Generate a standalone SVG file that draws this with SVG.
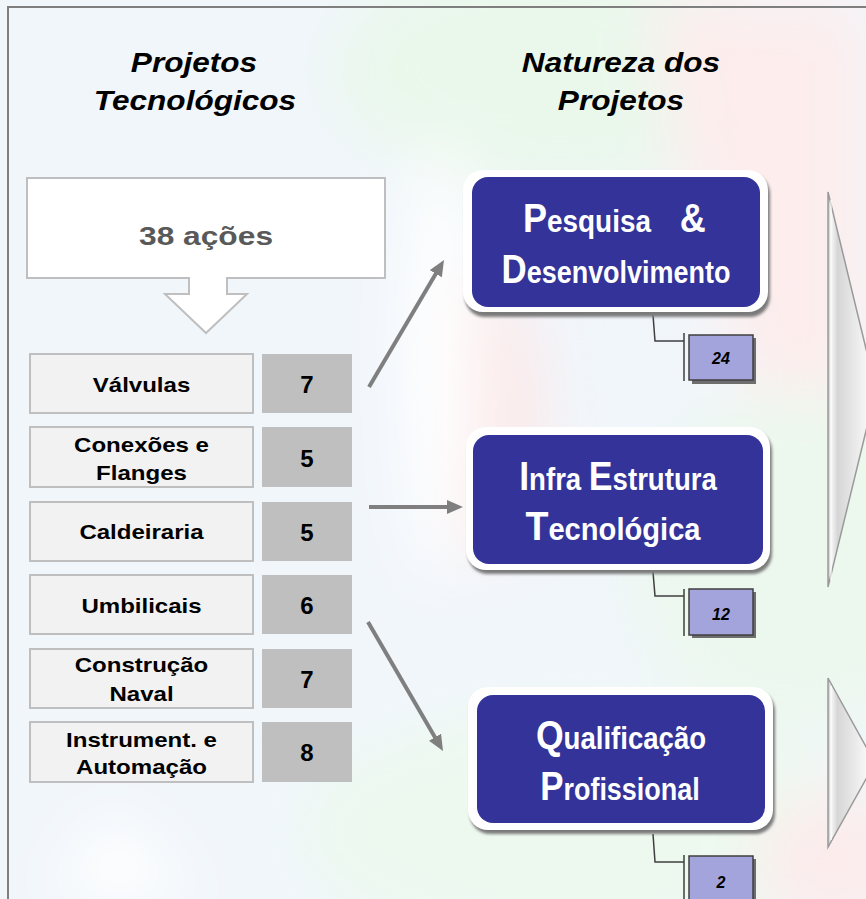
<svg xmlns="http://www.w3.org/2000/svg" width="866" height="899" viewBox="0 0 866 899">
<style>
.title{font-family:"Liberation Sans",Arial,sans-serif;font-weight:bold;font-style:italic;font-size:27px;fill:#000;text-anchor:middle}
.lbl{font-family:"Liberation Sans",Arial,sans-serif;font-weight:bold;font-size:21px;fill:#000;text-anchor:middle}
.num{font-family:"Liberation Sans",Arial,sans-serif;font-weight:bold;font-size:24px;fill:#000;text-anchor:middle}
.lblbox{fill:#f2f2f2;stroke:#bfbfbf;stroke-width:2}
.numbox{fill:#bfbfbf}
.bt{font-family:"Liberation Sans",Arial,sans-serif;font-weight:bold;fill:#fff;text-anchor:middle}
.big{font-size:40px}
.sm{font-size:31px}
.cnt{font-family:"Liberation Sans",Arial,sans-serif;font-weight:bold;font-style:italic;font-size:16px;fill:#000;text-anchor:middle}
.cbox{fill:#a4a4dc;stroke:#3f3f3f;stroke-width:1.5}
.cshadow{fill:#6e6e6e}
.lead{fill:none;stroke:#3f3f3f;stroke-width:1.5}
.arrow{fill:none;stroke:#7f7f7f;stroke-width:4;marker-end:url(#ah)}
.tri{fill:url(#triG);stroke:#9a9a9a;stroke-width:1.5}
</style>
<defs>
<marker id="ah" markerUnits="userSpaceOnUse" markerWidth="16" markerHeight="14" refX="6" refY="7" orient="auto">
<path d="M0,0 L16,7 L0,14 Z" fill="#7f7f7f"/>
</marker>
<filter id="blur" x="-50%" y="-50%" width="200%" height="200%"><feGaussianBlur stdDeviation="30"/></filter>
<filter id="sblur" x="-10%" y="-10%" width="120%" height="130%"><feGaussianBlur stdDeviation="1.5"/></filter>
<linearGradient id="triG" x1="0" y1="0" x2="1" y2="0">
<stop offset="0" stop-color="#c9c9c9"/>
<stop offset="0.08" stop-color="#f4f4f4"/>
<stop offset="0.2" stop-color="#d6d6d6"/>
<stop offset="0.8" stop-color="#f6f6f6"/>
<stop offset="1" stop-color="#ffffff"/>
</linearGradient>
</defs>

<g id="background">
<rect width="866" height="899" fill="#f1f6fb"/>
<g filter="url(#blur)">
<ellipse cx="560" cy="70" rx="230" ry="120" fill="#eaf8ec"/>
<path d="M650,0 H866 V420 H760 Q690,250 650,0 Z" fill="#fdeded"/>
<ellipse cx="800" cy="560" rx="170" ry="170" fill="#ecf8ee"/>
<ellipse cx="580" cy="830" rx="280" ry="120" fill="#edf9ef"/>
<ellipse cx="490" cy="420" rx="55" ry="140" fill="#fbe9e9"/>
<ellipse cx="835" cy="860" rx="80" ry="70" fill="#fcecec"/>
<ellipse cx="440" cy="360" rx="35" ry="220" fill="#ffffff"/>
<path d="M50,899 L110,810 L200,899 Z" fill="#ffffff"/>
</g>
<path d="M8,899 V7 H866" fill="none" stroke="#7f7f7f" stroke-width="2"/>
</g>

<g id="titles">
<text class="title" transform="translate(194,0) scale(1.17,1)" x="0" y="72">Projetos</text>
<text class="title" transform="translate(195,0) scale(1.17,1)" x="0" y="110">Tecnológicos</text>
<text class="title" transform="translate(621,0) scale(1.17,1)" x="0" y="72">Natureza dos</text>
<text class="title" transform="translate(621,0) scale(1.17,1)" x="0" y="110">Projetos</text>
</g>

<g id="total">
<path d="M27,178 H385 V278 H227 V294 H247 L206,333 L165,294 H189 V278 H27 Z" fill="#ffffff" stroke="#bfbfbf" stroke-width="2"/>
<text transform="translate(206,0) scale(1.22,1)" x="0" y="245" font-family="Liberation Sans, Arial, sans-serif" font-weight="bold" font-size="26" fill="#595959" text-anchor="middle">38 ações</text>
</g>

<g id="row-valvulas">
<rect class="lblbox" x="30" y="354" width="223" height="59"/>
<rect class="numbox" x="262" y="354" width="90" height="59"/>
<text class="lbl" transform="translate(141.5,0) scale(1.145,1)" x="0" y="392">Válvulas</text>
<text class="num" x="307" y="393">7</text>
</g>
<g id="row-conexoes">
<rect class="lblbox" x="30" y="427" width="223" height="60"/>
<rect class="numbox" x="262" y="427" width="90" height="60"/>
<text class="lbl" transform="translate(141.5,0) scale(1.145,1)" x="0" y="452">Conexões e</text>
<text class="lbl" transform="translate(141.5,0) scale(1.145,1)" x="0" y="480">Flanges</text>
<text class="num" x="307" y="467">5</text>
</g>
<g id="row-caldeiraria">
<rect class="lblbox" x="30" y="502" width="223" height="59"/>
<rect class="numbox" x="262" y="502" width="90" height="59"/>
<text class="lbl" transform="translate(141.5,0) scale(1.145,1)" x="0" y="539">Caldeiraria</text>
<text class="num" x="307" y="541">5</text>
</g>
<g id="row-umbilicais">
<rect class="lblbox" x="30" y="575" width="223" height="59"/>
<rect class="numbox" x="262" y="575" width="90" height="59"/>
<text class="lbl" transform="translate(141.5,0) scale(1.145,1)" x="0" y="613">Umbilicais</text>
<text class="num" x="307" y="614">6</text>
</g>
<g id="row-construcao">
<rect class="lblbox" x="30" y="649" width="223" height="59"/>
<rect class="numbox" x="262" y="649" width="90" height="59"/>
<text class="lbl" transform="translate(141.5,0) scale(1.145,1)" x="0" y="672">Construção</text>
<text class="lbl" transform="translate(141.5,0) scale(1.145,1)" x="0" y="701">Naval</text>
<text class="num" x="307" y="688">7</text>
</g>
<g id="row-instrument">
<rect class="lblbox" x="30" y="722" width="223" height="60"/>
<rect class="numbox" x="262" y="722" width="90" height="60"/>
<text class="lbl" transform="translate(141.5,0) scale(1.145,1)" x="0" y="747">Instrument. e</text>
<text class="lbl" transform="translate(141.5,0) scale(1.145,1)" x="0" y="774">Automação</text>
<text class="num" x="307" y="761">8</text>
</g>

<g id="connectors">
<path class="arrow" d="M369,387 L438.9,268.6"/>
<path class="arrow" d="M369,507 L453,507"/>
<path class="arrow" d="M368,622 L438,742.4"/>
<path class="lead" d="M653,315 L655,341 H684 M684,333 V381"/>
<path class="lead" d="M653,572 L655,596 H684 M684,589 V636"/>
<path class="lead" d="M653,834 L655,862 H684 M684,855 V899"/>
</g>

<g id="node-pd">
<rect x="465" y="174" width="305" height="143" rx="20" fill="#7a7a7a" filter="url(#sblur)"/>
<rect x="463" y="170" width="305" height="142" rx="20" fill="#ffffff"/>
<rect x="472" y="177" width="288" height="130" rx="16" fill="#333399"/>
<text class="bt" transform="translate(614.4,0) scale(0.9,1)" x="0" y="232"><tspan class="big">P</tspan><tspan class="sm">esquisa</tspan><tspan class="big" dx="21"> &amp;</tspan></text>
<text class="bt" transform="translate(616,0) scale(0.87,1)" x="0" y="283"><tspan class="big">D</tspan><tspan class="sm">esenvolvimento</tspan></text>
</g>
<g id="count-pd">
<rect class="cshadow" x="692" y="338" width="64" height="46"/>
<rect class="cbox" x="689" y="335" width="64" height="45"/>
<text class="cnt" x="721" y="364">24</text>
</g>

<g id="node-iet">
<rect x="468" y="431" width="304" height="143" rx="20" fill="#7a7a7a" filter="url(#sblur)"/>
<rect x="466" y="427" width="304" height="143" rx="20" fill="#ffffff"/>
<rect x="473" y="435" width="290" height="129" rx="16" fill="#333399"/>
<text class="bt" transform="translate(618,0) scale(0.89,1)" x="0" y="490"><tspan class="big">I</tspan><tspan class="sm">nfra </tspan><tspan class="big">E</tspan><tspan class="sm">strutura</tspan></text>
<text class="bt" transform="translate(613,0) scale(0.94,1)" x="0" y="540"><tspan class="big">T</tspan><tspan class="sm">ecnológica</tspan></text>
</g>
<g id="count-iet">
<rect class="cshadow" x="692" y="592" width="64" height="46"/>
<rect class="cbox" x="689" y="589" width="64" height="46"/>
<text class="cnt" x="721" y="620">12</text>
</g>

<g id="node-qp">
<rect x="470" y="691" width="305" height="143" rx="20" fill="#7a7a7a" filter="url(#sblur)"/>
<rect x="468" y="687" width="305" height="143" rx="20" fill="#ffffff"/>
<rect x="477" y="695" width="288" height="128" rx="16" fill="#333399"/>
<text class="bt" transform="translate(621,0) scale(0.89,1)" x="0" y="749"><tspan class="big">Q</tspan><tspan class="sm">ualificação</tspan></text>
<text class="bt" transform="translate(620,0) scale(0.87,1)" x="0" y="800"><tspan class="big">P</tspan><tspan class="sm">rofissional</tspan></text>
</g>
<g id="count-qp">
<rect class="cshadow" x="692" y="859" width="64" height="46"/>
<rect class="cbox" x="689" y="856" width="64" height="46"/>
<text class="cnt" x="721" y="888">2</text>
</g>

<g id="side-arrows">
<path class="tri" d="M828,192 L876,390 L828,587 Z"/>
<path d="M831,200 V580" stroke="#ffffff" stroke-width="1.5" opacity="0.8"/>
<path class="tri" d="M828,678 L875,763 L828,847 Z"/>
<path d="M831,686 V840" stroke="#ffffff" stroke-width="1.5" opacity="0.8"/>
</g>
</svg>
